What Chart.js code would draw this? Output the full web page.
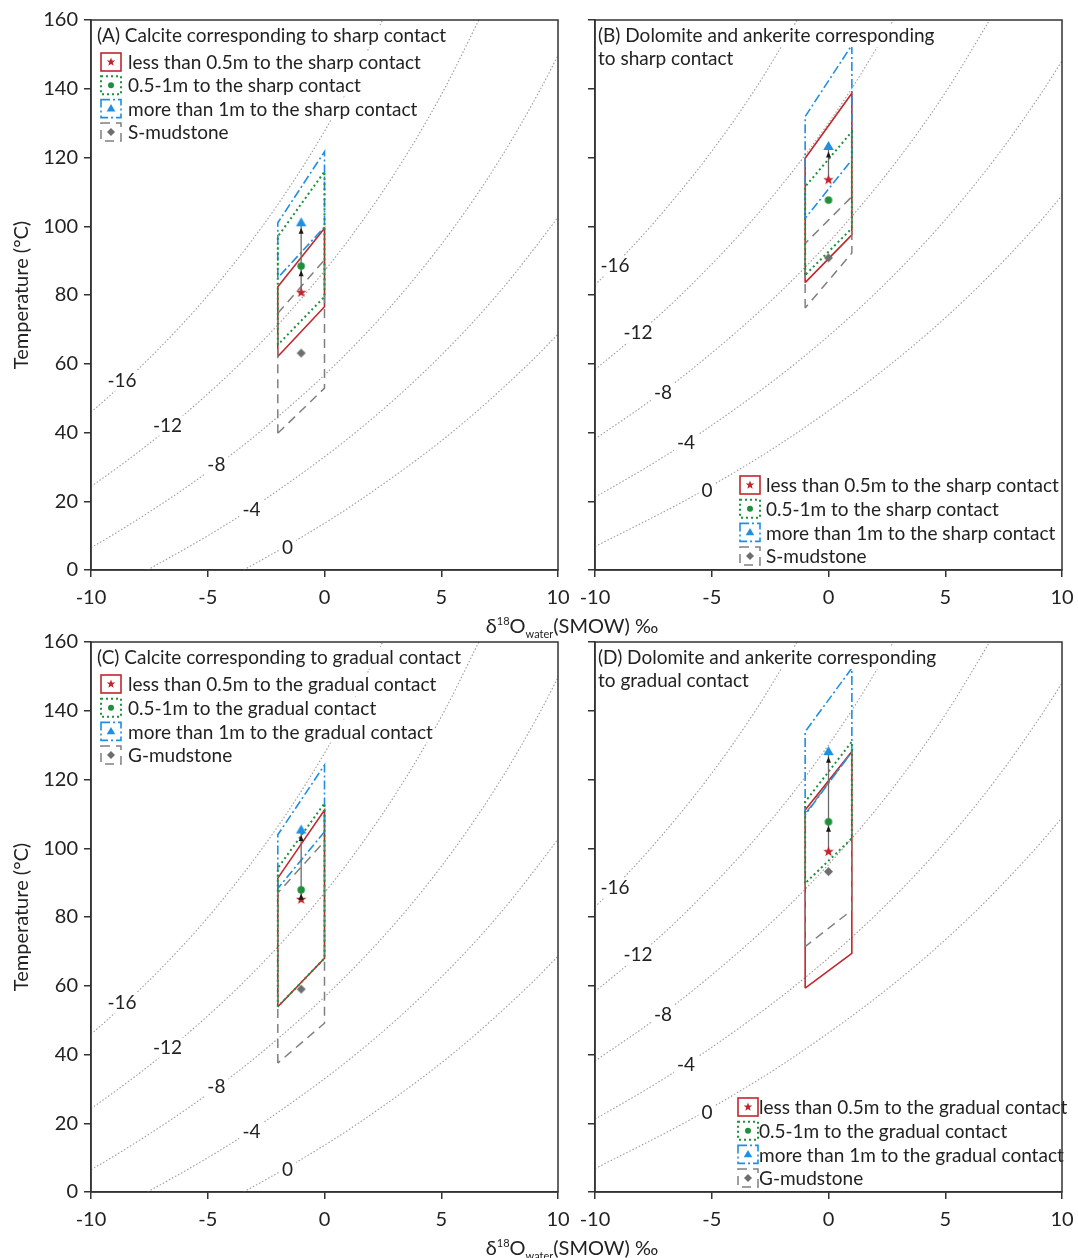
<!DOCTYPE html>
<html>
<head>
<meta charset="utf-8">
<script src="https://cdn.jsdelivr.net/npm/chart.js@4.4.1/dist/chart.umd.min.js"></script>
<style>
  body { margin: 0; background: #fff; }
  #wrap { position: relative; width: 1078px; height: 1258px; overflow: hidden; background: #fff; }
  canvas { position: absolute; }
  .xtitle { position: absolute; font-family: Lato, sans-serif; font-size: 20px; color: #222;
            white-space: nowrap; transform: translateX(-50%); line-height: 24px; }
  .xtitle sup, .xtitle sub { font-size: 11px; line-height: 0; }
  .xtitle sup { vertical-align: 8px; }
  .xtitle sub { vertical-align: -5px; }
</style>
</head>
<body>
<div id="wrap">
  <canvas id="panelA" width="575" height="612" style="left:0;top:0"></canvas>
  <canvas id="panelB" width="503" height="612" style="left:575px;top:0"></canvas>
  <canvas id="panelC" width="575" height="636" style="left:0;top:622px"></canvas>
  <canvas id="panelD" width="503" height="636" style="left:575px;top:622px"></canvas>
  <div class="xtitle" style="left:572px;top:613px">δ<sup>18</sup>O<sub>water</sub>(SMOW) ‰</div>
  <div class="xtitle" style="left:572px;top:1235px">δ<sup>18</sup>O<sub>water</sub>(SMOW) ‰</div>
</div>
<script>
// axes
const xTicks = [-10, -5, 0, 5, 10];
const yTicks = [0, 20, 40, 60, 80, 100, 120, 140, 160];
const isoNames = ['-16', '-12', '-8', '-4', '0'];

// isolines of mineral d18O as [d18O water, T degC]
// calcite (panels A, C)
const calcIsoM16 = [[-10, 45.9], [-9.31, 50], [-7.74, 60], [-6.30, 70], [-4.98, 80], [-2.66, 100], [-0.68, 120], [1.02, 140], [2.49, 160]];
const calcIsoM12 = [[-10, 24.3], [-8.82, 30], [-6.92, 40], [-3.62, 60], [-0.86, 80], [1.46, 100], [3.44, 120], [5.14, 140], [6.61, 160]];
const calcIsoM8 = [[-10, 6.5], [-9.12, 10], [-6.80, 20], [-4.70, 30], [-2.80, 40], [0.50, 60], [3.26, 80], [5.58, 100], [7.56, 120], [9.26, 140], [10, 149.7]];
const calcIsoM4 = [[-7.58, 0], [-4.99, 10], [-2.67, 20], [1.33, 40], [4.63, 60], [7.39, 80], [9.71, 100], [10, 102.7]];
const calcIso0 = [[-3.46, 0], [-0.87, 10], [1.45, 20], [5.45, 40], [8.75, 60], [10, 68.6]];
// dolomite / ankerite (panels B, D)
const dolIsoM16 = [[-10, 82.9], [-8.97, 90], [-7.61, 100], [-5.20, 120], [-3.13, 140], [-1.34, 160]];
const dolIsoM12 = [[-10, 58.3], [-7.93, 70], [-6.32, 80], [-3.49, 100], [-1.08, 120], [0.99, 140], [2.78, 160]];
const dolIsoM8 = [[-10, 38.1], [-7.47, 50], [-5.56, 60], [-2.20, 80], [0.63, 100], [3.04, 120], [5.11, 140], [6.90, 160]];
const dolIsoM4 = [[-10, 21.2], [-7.76, 30], [-5.45, 40], [-1.43, 60], [1.93, 80], [4.76, 100], [7.17, 120], [9.24, 140], [10, 148.1]];
const dolIso0 = [[-10, 6.8], [-6.20, 20], [-3.64, 30], [-1.33, 40], [2.69, 60], [6.05, 80], [8.88, 100], [10, 108.9]];

// where the isoline numbers sit
const calcLabelX = [-8.67, -6.72, -4.63, -3.13, -1.58];
const calcLabelT = [55, 42, 30.6, 17.5, 6.4];
const dolLabelX = [-9.14, -8.16, -7.09, -6.10, -5.20];
const dolLabelT = [88.4, 68.9, 51.5, 36.9, 23.0];

// ranges: d18O water at the left/right side, temperatures [leftBottom, leftTop, rightTop, rightBottom]
const waterA = [-2, 0];
const redA = [62.1, 82.4, 99.4, 76.6];
const greenA = [65.5, 97, 115.9, 79.5];
const blueA = [85, 101, 121.7, 99.8];
const greyA = [39.8, 74.7, 90.2, 52.9];
const ptsA = [80.7, 88.4, 101, 63.1]; // star, circle, triangle, diamond

const waterB = [-1, 1];
const redB = [83.6, 119.8, 138.7, 97.5];
const greenB = [85.8, 111.5, 127.5, 99.4];
const blueB = [102.3, 131.9, 152.7, 119.3];
const greyB = [76.2, 95, 108.6, 92.2];
const ptsB = [113.5, 107.6, 123.2, 90.8];

const waterC = [-2, 0];
const redC = [53.9, 91.3, 111.1, 68];
const greenC = [53.9, 94.2, 113.1, 68];
const blueC = [88.3, 103.9, 124.2, 104.8];
const greyC = [37.5, 87, 102, 49.1];
const ptsC = [85.1, 87.9, 105.3, 59];

const waterD = [-1, 1];
const redD = [59.3, 111.1, 128.1, 69.4];
const greenD = [89.8, 113.5, 131, 102.9];
const blueD = [109.7, 133.9, 152.4, 128.1];
const greyD = [71.4, 110, 128, 82];
const ptsD = [99, 107.7, 128.1, 93.2];

const sharpText = ['less than 0.5m to the sharp contact', '0.5-1m to the sharp contact', 'more than 1m to the sharp contact', 'S-mudstone'];
const gradualText = ['less than 0.5m to the gradual contact', '0.5-1m to the gradual contact', 'more than 1m to the gradual contact', 'G-mudstone'];

const ink = '#222';
const RED = '#c0272d', GREEN = '#1f8f3b', BLUE = '#1f8fe3', GREY = '#808080';
const FONT = 'Lato, "Open Sans", sans-serif';

// legend order: red, green, blue, grey
const styles = [
  { color: RED, width: 1.6, dash: [], marker: 'star', mcol: RED },
  { color: GREEN, width: 2, dash: [2, 3], marker: 'circle', mcol: GREEN },
  { color: BLUE, width: 1.6, dash: [9, 3, 2, 3], marker: 'triangle', mcol: BLUE },
  { color: GREY, width: 1.5, dash: [9, 6], marker: 'diamond', mcol: '#6e6e6e' }
];

function drawMarker(g, kind, x, y, s, color) {
  g.save();
  g.fillStyle = color;
  g.beginPath();
  if (kind === 'star') {
    for (let i = 0; i < 10; i++) {
      const r = i % 2 ? s * 0.42 : s;
      const a = -Math.PI / 2 + i * Math.PI / 5;
      g.lineTo(x + r * Math.cos(a), y + r * Math.sin(a));
    }
  } else if (kind === 'circle') {
    g.arc(x, y, s * 0.75, 0, Math.PI * 2);
  } else if (kind === 'triangle') {
    g.moveTo(x, y - s); g.lineTo(x + s * 0.95, y + s * 0.65); g.lineTo(x - s * 0.95, y + s * 0.65);
  } else {
    g.moveTo(x, y - s); g.lineTo(x + s, y); g.lineTo(x, y + s); g.lineTo(x - s, y);
  }
  g.closePath();
  g.fill();
  g.restore();
}

function markerCanvas(kind, s, color) {
  const c = document.createElement('canvas');
  const n = Math.ceil(s * 2 + 2);
  c.width = c.height = n;
  drawMarker(c.getContext('2d'), kind, n / 2, n / 2, s, color);
  return c;
}
const markerSize = [5.5, 5, 5.5, 4.5];
const markerImgs = styles.map((st, i) => markerCanvas(st.marker, markerSize[i], st.mcol));

function boxData(water, t) {
  return [
    { x: water[0], y: t[0] }, { x: water[0], y: t[1] },
    { x: water[1], y: t[2] }, { x: water[1], y: t[3] }, { x: water[0], y: t[0] }
  ];
}

const panels = [
  { id: 'panelA', iso: [calcIsoM16, calcIsoM12, calcIsoM8, calcIsoM4, calcIso0], lx: calcLabelX, lt: calcLabelT,
    water: waterA, boxes: [redA, greenA, blueA, greyA], pts: ptsA, left: true, axisH: 42, padR: 17,
    title: ['(A) Calcite corresponding to sharp contact'], titleX: 6, titleY: 16,
    text: sharpText, symX: 10, textX: 37, rowY: 42, rowDy: 23.3 },
  { id: 'panelB', iso: [dolIsoM16, dolIsoM12, dolIsoM8, dolIsoM4, dolIso0], lx: dolLabelX, lt: dolLabelT,
    water: waterB, boxes: [redB, greenB, blueB, greyB], pts: ptsB, left: false, axisH: 42, padR: 16,
    title: ['(B) Dolomite and ankerite corresponding', 'to sharp contact'], titleX: 3, titleY: 16,
    text: sharpText, symX: 145, textX: 171, rowY: 465, rowDy: 23.7 },
  { id: 'panelC', iso: [calcIsoM16, calcIsoM12, calcIsoM8, calcIsoM4, calcIso0], lx: calcLabelX, lt: calcLabelT,
    water: waterC, boxes: [redC, greenC, blueC, greyC], pts: ptsC, left: true, axisH: 66, padR: 17,
    title: ['(C) Calcite corresponding to gradual contact'], titleX: 6, titleY: 16,
    text: gradualText, symX: 10, textX: 37, rowY: 42, rowDy: 23.7 },
  { id: 'panelD', iso: [dolIsoM16, dolIsoM12, dolIsoM8, dolIsoM4, dolIso0], lx: dolLabelX, lt: dolLabelT,
    water: waterD, boxes: [redD, greenD, blueD, greyD], pts: ptsD, left: false, axisH: 66, padR: 16,
    title: ['(D) Dolomite and ankerite corresponding', 'to gradual contact'], titleX: 3, titleY: 16,
    text: gradualText, symX: 143, textX: 164, rowY: 465, rowDy: 23.7 }
];

function arrowHead(g, x, y, dir) {
  // tip at (x,y), pointing up when dir = -1
  g.beginPath();
  g.moveTo(x, y);
  g.lineTo(x - 2.5, y - dir * 6);
  g.lineTo(x + 2.5, y - dir * 6);
  g.closePath();
  g.fill();
}

function decor(p) {
  return {
    id: 'decor' + p.id,
    afterDatasetsDraw(chart) {
      const g = chart.ctx, a = chart.chartArea;
      const xs = chart.scales.x, ys = chart.scales.y;
      g.save();

      // arrows along the connector
      const xp = xs.getPixelForValue((p.water[0] + p.water[1]) / 2);
      const yStar = ys.getPixelForValue(p.pts[0]);
      const yCirc = ys.getPixelForValue(p.pts[1]);
      const yTri = ys.getPixelForValue(p.pts[2]);
      g.fillStyle = '#1a1a1a';
      const dir = yTri < yStar ? -1 : 1;
      arrowHead(g, xp, yTri - dir * 5, dir);
      if ((yCirc - yStar) * (yCirc - yTri) < 0) arrowHead(g, xp, yCirc - dir * 4, dir);

      // isoline numbers
      g.font = '19px ' + FONT;
      g.textAlign = 'center';
      g.textBaseline = 'middle';
      isoNames.forEach((t, i) => {
        const x = xs.getPixelForValue(p.lx[i]), y = ys.getPixelForValue(p.lt[i]);
        const w = g.measureText(t).width;
        g.fillStyle = '#fff';
        g.fillRect(x - w / 2 - 3, y - 10, w + 6, 20);
        g.fillStyle = ink;
        g.fillText(t, x, y);
      });

      // panel title + legend
      g.font = '19px ' + FONT;
      g.textAlign = 'left';
      p.title.forEach((line, i) => {
        const x = a.left + p.titleX, y = a.top + p.titleY + i * 23;
        const w = g.measureText(line).width;
        g.fillStyle = '#fff';
        g.fillRect(x - 2, y - 11, w + 4, 22);
        g.fillStyle = ink;
        g.fillText(line, x, y);
      });
      styles.forEach((st, i) => {
        const y = a.top + p.rowY + i * p.rowDy;
        const sx = a.left + p.symX, tx = a.left + p.textX;
        const txt = p.text[i];
        const w = g.measureText(txt).width;
        g.fillStyle = '#fff';
        g.fillRect(sx - 2, y - 11, Math.min(tx - sx + w + 4, a.right - sx + 1), 22);
        g.strokeStyle = st.color;
        g.lineWidth = st.width;
        g.setLineDash(st.dash);
        g.strokeRect(sx, y - 9, 20, 18);
        g.setLineDash([]);
        drawMarker(g, st.marker, sx + 10, y, [4.5, 4, 4.5, 4][i], st.mcol);
        g.fillStyle = ink;
        g.fillText(txt, tx, y + 1);
      });

      // frame on top
      g.strokeStyle = '#333';
      g.lineWidth = 1.5;
      g.strokeRect(a.left, a.top, a.right - a.left, a.bottom - a.top);
      g.restore();
    }
  };
}

function buildChart(p) {
  const xPt = (p.water[0] + p.water[1]) / 2;
  const datasets = [];
  // markers (first = drawn on top)
  p.pts.forEach((t, i) => {
    datasets.push({ data: [{ x: xPt, y: t }], pointStyle: markerImgs[i], pointRadius: 5, showLine: false });
  });
  // connector star -> triangle
  const lo = Math.min(p.pts[0], p.pts[2]), hi = Math.max(p.pts[0], p.pts[2]);
  datasets.push({ data: [{ x: xPt, y: lo }, { x: xPt, y: hi }], showLine: true, borderColor: '#6a6a6a',
    borderWidth: 1.3, pointRadius: 0 });
  // range boxes: green, blue, grey on top of red
  [1, 2, 3, 0].forEach(k => {
    const st = styles[k];
    datasets.push({ data: boxData(p.water, p.boxes[k]), showLine: true, borderColor: st.color,
      borderWidth: st.width, borderDash: st.dash, pointRadius: 0, tension: 0, fill: false });
  });
  // isolines
  p.iso.forEach(line => {
    datasets.push({ data: line.map(d => ({ x: d[0], y: d[1] })), showLine: true, borderColor: '#9c9c9c',
      borderWidth: 1.1, borderDash: [1.5, 2], pointRadius: 0, cubicInterpolationMode: 'monotone' });
  });

  new Chart(document.getElementById(p.id), {
    type: 'scatter',
    data: { datasets },
    options: {
      responsive: false,
      animation: false,
      events: [],
      layout: { padding: { left: 0, top: 20, right: p.padR, bottom: 0 } },
      plugins: { legend: { display: false }, tooltip: { enabled: false } },
      scales: {
        x: {
          type: 'linear', min: -10, max: 10,
          afterBuildTicks: s => { s.ticks = xTicks.map(v => ({ value: v })); },
          afterFit: s => { s.height = p.axisH; s.paddingLeft = 0; s.paddingRight = 0; },
          grid: { drawOnChartArea: false, drawTicks: true, tickLength: 7, color: '#333', lineWidth: 1.5 },
          border: { display: true, color: '#333', width: 1.5 },
          ticks: { font: { family: FONT, size: 20 }, color: ink, padding: 9, maxRotation: 0 }
        },
        y: {
          type: 'linear', min: 0, max: 160,
          afterBuildTicks: s => { s.ticks = yTicks.map(v => ({ value: v })); },
          afterFit: s => { s.width = p.left ? 91 : 20; s.paddingTop = 0; s.paddingBottom = 0; },
          grid: { drawOnChartArea: false, drawTicks: true, tickLength: 7, color: '#333', lineWidth: 1.5 },
          border: { display: true, color: '#333', width: 1.5 },
          ticks: { display: p.left, font: { family: FONT, size: 20 }, color: ink, padding: 6 },
          title: { display: p.left, text: 'Temperature (°C)', font: { family: FONT, size: 20 }, color: ink,
            padding: { top: 10, bottom: 0 } }
        }
      }
    },
    plugins: [decor(p)]
  });
}

panels.forEach(buildChart);
</script>
</body>
</html>
